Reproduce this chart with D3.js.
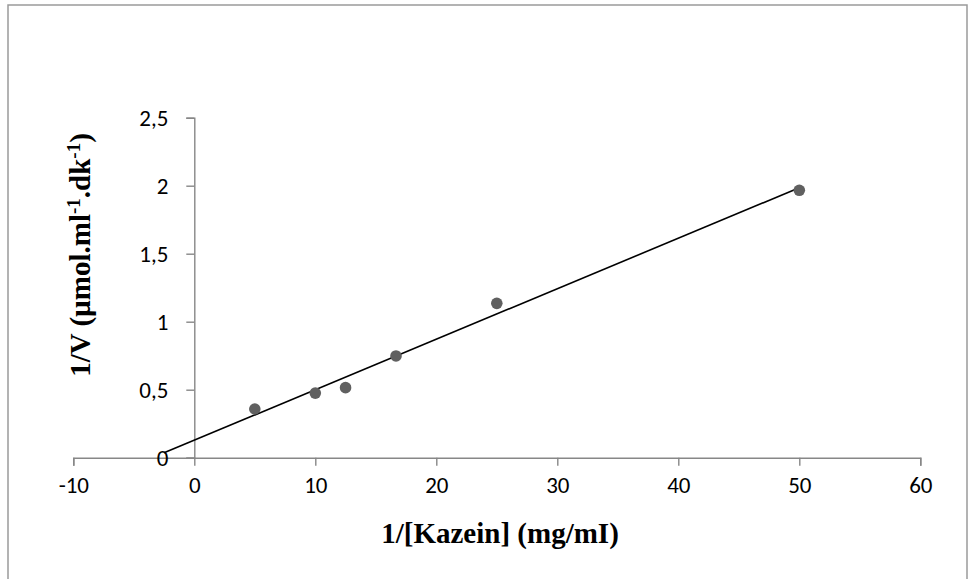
<!DOCTYPE html>
<html>
<head>
<meta charset="utf-8">
<script src="https://cdn.jsdelivr.net/npm/d3@7"></script>
<style>
  html, body { margin: 0; padding: 0; background: #fff; }
  svg { display: block; }
</style>
</head>
<body>
<svg id="chart" width="968" height="579"></svg>
<script>
// Lineweaver-Burk data: 1/[substrate] vs 1/V
const inverseKazein = [5, 10, 12.5, 16.67, 25, 50];
const inverseV = [0.358, 0.475, 0.515, 0.748, 1.135, 1.966];

const xTicks = [-10, 0, 10, 20, 30, 40, 50, 60];
const yTicks = [0, 0.5, 1, 1.5, 2, 2.5];

// Trendline range (extended backwards past the y axis)
const trendFrom = -2.5;
const trendTo = 50;

const svg = d3.select("#chart");

// Decimal comma, plain hyphen for negatives
const trLocale = d3.formatLocale({ decimal: ",", thousands: ".", grouping: [3], currency: ["", ""], minus: "-" });
const fmt = trLocale.format("~g");

const x = d3.scaleLinear().domain([-10, 60]).range([73.3, 920.3]);
const y = d3.scaleLinear().domain([0, 2.5]).range([457.7, 117.7]);

// Outer chart frame
svg.append("rect")
  .attr("x", 8).attr("y", 5)
  .attr("width", 959).attr("height", 600)
  .attr("fill", "none")
  .attr("stroke", "#9a9a9a")
  .attr("stroke-width", 1.5);

const axisColor = "#878787";
const tickFont = "Carlito, Lato, 'Liberation Sans', sans-serif";
const tickSize = 23;

// X axis (drawn at y = 0)
const gx = svg.append("g")
  .attr("transform", `translate(0,${y(0)})`)
  .call(d3.axisBottom(x).tickValues(xTicks).tickFormat(fmt).tickSizeOuter(0).tickSize(8).tickPadding(11));
gx.select(".domain").attr("stroke", axisColor).attr("stroke-width", 1.4);
gx.selectAll(".tick line").attr("stroke", axisColor).attr("stroke-width", 1.4);
gx.selectAll(".tick text")
  .attr("font-family", tickFont).attr("font-size", tickSize).attr("fill", "#000");

// Y axis (drawn at x = 0)
const gy = svg.append("g")
  .attr("transform", `translate(${x(0)},0)`)
  .call(d3.axisLeft(y).tickValues(yTicks).tickFormat(fmt).tickSizeOuter(0).tickSize(8).tickPadding(18));
gy.select(".domain").attr("stroke", axisColor).attr("stroke-width", 1.4);
gy.selectAll(".tick line").attr("stroke", axisColor).attr("stroke-width", 1.4);
gy.selectAll(".tick text")
  .attr("font-family", tickFont).attr("font-size", tickSize).attr("fill", "#000");

// Least-squares linear trendline
const n = inverseKazein.length;
const mx = d3.mean(inverseKazein), my = d3.mean(inverseV);
let sxy = 0, sxx = 0;
for (let i = 0; i < n; i++) {
  sxy += (inverseKazein[i] - mx) * (inverseV[i] - my);
  sxx += (inverseKazein[i] - mx) ** 2;
}
const slope = sxy / sxx;
const intercept = my - slope * mx;

svg.append("line")
  .attr("x1", x(trendFrom)).attr("y1", y(intercept + slope * trendFrom))
  .attr("x2", x(trendTo)).attr("y2", y(intercept + slope * trendTo))
  .attr("stroke", "#000").attr("stroke-width", 1.6);

// Data points
svg.append("g").selectAll("circle")
  .data(d3.zip(inverseKazein, inverseV))
  .join("circle")
  .attr("cx", d => x(d[0]))
  .attr("cy", d => y(d[1]))
  .attr("r", 5.8)
  .attr("fill", "#606060");

// Axis titles
const titleFont = "'Liberation Serif', 'Times New Roman', serif";

svg.append("text")
  .attr("x", 500).attr("y", 543)
  .attr("text-anchor", "middle")
  .attr("font-family", titleFont).attr("font-weight", "bold").attr("font-size", 29)
  .text("1/[Kazein] (mg/mI)");

const yTitle = svg.append("text")
  .attr("transform", "translate(90,255) rotate(-90)")
  .attr("text-anchor", "middle")
  .attr("font-family", titleFont).attr("font-weight", "bold").attr("font-size", 29);
yTitle.append("tspan").text("1/V (µmol.ml");
yTitle.append("tspan").attr("font-size", 19).attr("dy", -10).text("-1");
yTitle.append("tspan").attr("dy", 10).text(".dk");
yTitle.append("tspan").attr("font-size", 19).attr("dy", -10).text("-1");
yTitle.append("tspan").attr("dy", 10).text(")");
</script>
</body>
</html>
